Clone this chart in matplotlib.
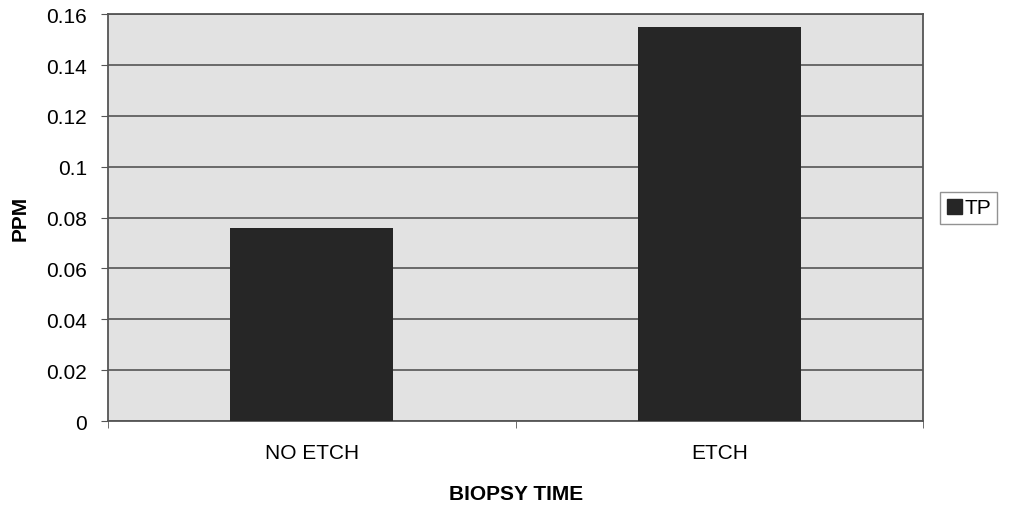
import matplotlib
matplotlib.use("Agg")
import matplotlib.pyplot as plt
from matplotlib.patches import Patch

categories = ["NO ETCH", "ETCH"]
tp_values = [0.076, 0.155]
y_ticks = [0, 0.02, 0.04, 0.06, 0.08, 0.1, 0.12, 0.14, 0.16]
y_tick_labels = ["0", "0.02", "0.04", "0.06", "0.08", "0.1", "0.12", "0.14", "0.16"]

plt.rcParams["font.family"] = ["Liberation Sans", "DejaVu Sans"]

fig = plt.figure(figsize=(10.09, 5.06), dpi=100)
ax = fig.add_axes([0.107, 0.166, 0.808, 0.804])
ax.set_facecolor("#e2e2e2")

bar_color = "#262626"
x = list(range(len(categories)))
ax.bar(x, tp_values, width=0.4, color=bar_color, zorder=3)

ax.set_xlim(-0.5, len(categories) - 0.5)
ax.set_ylim(0, 0.16)
ax.set_yticks(y_ticks)
ax.set_yticklabels(y_tick_labels, fontsize=15)
ax.yaxis.grid(True, color="#555555", linewidth=1.2, zorder=1)
ax.set_axisbelow(True)

# category labels centred, tick marks at category boundaries
ax.set_xticks(x)
ax.set_xticklabels(categories, fontsize=15)
ax.tick_params(axis="x", length=0, pad=16)
ax.set_xticks([-0.5, 0.5, 1.5], minor=True)
ax.tick_params(axis="x", which="minor", length=5, color="#555555")
ax.tick_params(axis="y", length=5, color="#555555", pad=10)

for side in ["left", "bottom", "right", "top"]:
    ax.spines[side].set_color("#555555")
    ax.spines[side].set_linewidth(1.3)

ax.set_ylabel("PPM", fontsize=15, fontweight="bold", labelpad=12)
ax.set_xlabel("BIOPSY TIME", fontsize=15, fontweight="bold", labelpad=16)

handles = [Patch(facecolor=bar_color, edgecolor=bar_color, label="TP")]
leg = fig.legend(handles=handles, loc="center left", bbox_to_anchor=(0.932, 0.587),
                 fontsize=15, frameon=True, fancybox=False, handlelength=0.75,
                 handleheight=0.75, handletextpad=0.1, borderpad=0.3,
                 borderaxespad=0.0)
leg.get_frame().set_edgecolor("#777777")
leg.get_frame().set_linewidth(1.0)

fig.savefig("out.png", dpi=100)
